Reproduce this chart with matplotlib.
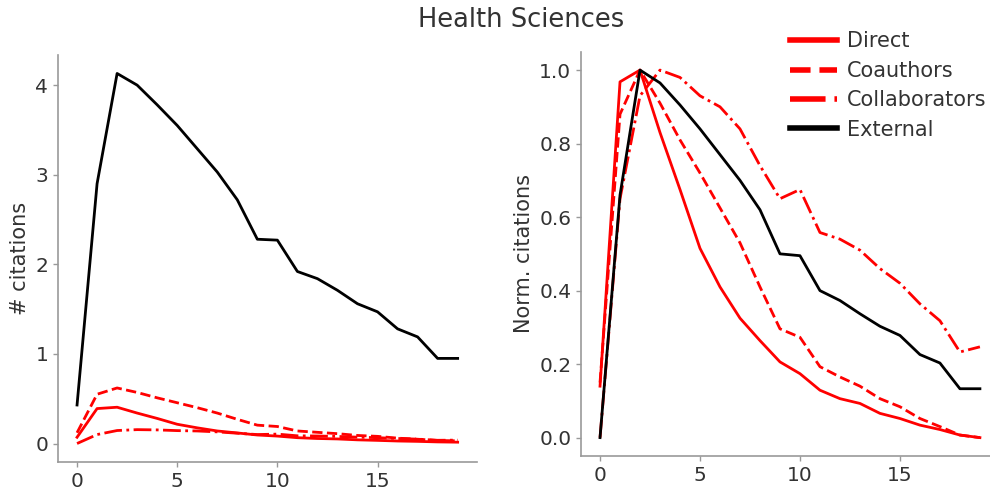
import numpy as np
import matplotlib
matplotlib.use('Agg')
from matplotlib import pyplot as plt

years = np.arange(20)

# mean citations per year after publication
direct = [0.07, 0.39, 0.405, 0.34, 0.28, 0.215, 0.175, 0.14, 0.118, 0.095,
          0.083, 0.065, 0.056, 0.051, 0.041, 0.035, 0.028, 0.024, 0.018, 0.015]
coauthors = [0.12, 0.55, 0.62, 0.57, 0.51, 0.455, 0.40, 0.34, 0.27, 0.205,
             0.19, 0.14, 0.125, 0.11, 0.09, 0.08, 0.06, 0.048, 0.034, 0.03]
collaborators = [0.0, 0.10, 0.145, 0.155, 0.152, 0.144, 0.14, 0.13, 0.115, 0.10,
                 0.105, 0.086, 0.084, 0.079, 0.071, 0.065, 0.056, 0.049, 0.036, 0.038]
external = [0.43, 2.9, 4.13, 4.0, 3.78, 3.55, 3.29, 3.03, 2.72, 2.28,
            2.27, 1.92, 1.84, 1.71, 1.56, 1.47, 1.28, 1.19, 0.95, 0.95]

# min-max normalised curves
direct_norm = [0.14, 0.968, 1.0, 0.83, 0.675, 0.515, 0.41, 0.325, 0.264, 0.206,
               0.174, 0.129, 0.106, 0.093, 0.066, 0.052, 0.034, 0.022, 0.007, 0.0]
coauthors_norm = [0.15, 0.88, 1.0, 0.91, 0.81, 0.72, 0.625, 0.53, 0.41, 0.296,
                  0.273, 0.193, 0.165, 0.14, 0.106, 0.084, 0.052, 0.03, 0.007, 0.0]
collaborators_norm = [0.0, 0.65, 0.93, 1.0, 0.98, 0.93, 0.90, 0.84, 0.74, 0.65,
                      0.675, 0.558, 0.54, 0.51, 0.46, 0.42, 0.364, 0.318, 0.233, 0.247]
external_norm = [0.0, 0.66, 1.0, 0.965, 0.905, 0.84, 0.77, 0.70, 0.62, 0.50,
                 0.495, 0.40, 0.373, 0.337, 0.303, 0.278, 0.226, 0.203, 0.133, 0.133]

labels = ['Direct', 'Coauthors', 'Collaborators', 'External']
colors = ['red', 'red', 'red', 'black']
styles = ['-', '--', '-.', '-']

plt.rcParams['font.family'] = 'DejaVu Sans'
plt.rcParams['text.color'] = '#333333'
plt.rcParams['axes.labelcolor'] = '#333333'
plt.rcParams['xtick.color'] = '#999999'
plt.rcParams['ytick.color'] = '#999999'
plt.rcParams['xtick.labelcolor'] = '#333333'
plt.rcParams['ytick.labelcolor'] = '#333333'

fig = plt.figure(figsize=(9.9, 4.9), dpi=100)
ax1 = fig.add_axes([0.0586, 0.0571, 0.4229, 0.8307])
ax2 = fig.add_axes([0.5869, 0.0694, 0.4221, 0.8251])

for ax, series in [(ax1, [direct, coauthors, collaborators, external]),
                   (ax2, [direct_norm, coauthors_norm, collaborators_norm, external_norm])]:
    for vals, c, ls, lab in zip(series, colors, styles, labels):
        ax.plot(years, vals, color=c, linestyle=ls, lw=2, label=lab)
    for side in ['top', 'right']:
        ax.spines[side].set_visible(False)
    for side in ['left', 'bottom']:
        ax.spines[side].set_color('#999999')
        ax.spines[side].set_linewidth(1.2)
    ax.tick_params(labelsize=14.5, length=3.5, width=1)
    ax.set_xticks([0, 5, 10, 15])

ax1.set_ylabel('# citations', fontsize=15)
ax2.set_ylabel('Norm. citations', fontsize=15)

fig.text(0.526, 0.945, 'Health Sciences', fontsize=18.5, ha='center', va='baseline')

handles, _ = ax2.get_legend_handles_labels()
leg = fig.legend(handles, labels, loc='upper left', bbox_to_anchor=(0.787, 0.957),
                 frameon=False, fontsize=15, handlelength=2.3, handletextpad=0.45,
                 borderpad=0, labelspacing=0.45)
for h in leg.get_lines():
    h.set_linewidth(4)

fig.savefig('out.png', dpi=100)
